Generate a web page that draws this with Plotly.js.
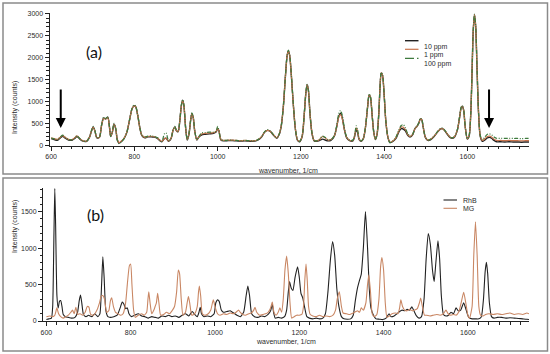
<!DOCTYPE html>
<html>
<head>
<meta charset="utf-8">
<script src="https://cdn.plot.ly/plotly-3.0.1.min.js"></script>
<style>html,body{margin:0;padding:0;background:#fff;}#chart{width:550px;height:354px;}</style>
</head>
<body>
<div id="chart"></div>
<script>
// ---------- Panel (a): concentration series ----------
const wnA = [600,607,615,622,628,634,642,650,656,662,668,675,685,692,697,701,705,710,716,721,726,731,736,740,743,747,751,755,759,763,768,775,782,788,794,799,803,808,813,818,825,832,840,848,856,862,866,872,876,882,888,893,897,901,905,909,913,916,919,923,927,931,935,938,941,945,950,955,962,970,980,990,996,1000,1003,1008,1015,1025,1035,1045,1055,1065,1075,1085,1095,1105,1113,1120,1127,1135,1142,1148,1153,1158,1163,1167,1170,1173,1177,1182,1187,1192,1197,1203,1208,1212,1215,1218,1222,1227,1232,1238,1245,1252,1258,1265,1272,1280,1286,1291,1295,1299,1304,1310,1318,1325,1329,1333,1336,1340,1345,1350,1355,1360,1364,1367,1371,1375,1379,1383,1387,1390,1393,1396,1400,1404,1409,1414,1420,1428,1435,1441,1446,1451,1457,1463,1469,1474,1478,1483,1487,1490,1494,1499,1505,1512,1520,1528,1535,1540,1545,1551,1558,1564,1570,1576,1581,1585,1588,1591,1595,1600,1604,1608,1611,1614,1617,1620,1623,1627,1631,1636,1642,1648,1653,1658,1664,1670,1680,1690,1700,1710,1720,1730,1740,1748];
const ppm10 = [150,130,115,170,205,160,120,115,150,200,150,100,90,180,330,420,330,170,180,450,620,600,640,420,200,300,480,380,120,50,80,150,300,560,820,900,880,680,400,220,170,190,195,185,150,100,80,150,160,90,150,350,420,330,310,550,920,1030,900,400,120,250,560,720,650,320,120,190,240,250,260,270,300,380,330,120,100,105,110,100,95,100,95,90,110,180,300,340,310,220,160,250,450,900,1600,2050,2150,2050,1600,900,350,110,80,200,700,1200,1380,1250,700,250,100,90,110,140,120,100,110,200,420,660,730,640,380,170,100,100,200,360,300,130,90,150,400,850,1150,1100,700,300,130,250,700,1300,1650,1600,1150,550,180,60,80,150,300,380,370,330,220,190,250,380,420,500,600,590,400,180,110,130,200,300,370,380,340,260,180,160,200,350,620,850,890,800,400,140,200,700,1600,2600,2980,2700,1800,700,200,90,120,170,180,160,110,80,80,75,80,75,75,70,75,75];
const ppm1 = [170,150,135,185,220,175,135,130,165,215,160,110,95,185,330,410,330,175,185,450,610,600,630,420,210,300,470,380,130,60,90,160,300,560,820,900,880,680,400,230,180,200,205,195,160,110,90,150,160,100,160,350,410,330,310,550,910,1020,900,400,130,250,560,710,650,320,130,200,260,270,280,290,310,390,330,130,110,115,115,110,105,110,105,100,120,190,300,340,310,230,170,260,460,900,1600,2050,2150,2050,1600,900,360,120,90,210,700,1200,1380,1250,700,260,110,100,130,200,170,120,130,210,420,640,700,620,380,180,110,110,210,400,330,140,100,160,400,850,1150,1100,700,300,140,260,700,1300,1650,1600,1150,560,190,70,90,170,320,420,410,360,240,200,260,380,420,500,600,590,400,190,120,140,210,300,370,380,340,270,190,170,210,350,620,850,890,800,400,150,210,700,1600,2600,2980,2700,1800,700,210,110,150,200,210,190,140,110,110,105,110,105,105,100,105,105];
const ppm100 = [165,145,130,190,230,180,130,125,160,215,160,105,90,190,340,430,340,175,190,460,640,610,650,430,200,310,500,390,110,35,70,150,300,570,830,920,890,690,410,230,190,210,215,200,170,110,90,260,280,110,160,360,430,340,320,560,930,1040,910,410,130,260,570,740,660,330,130,200,280,290,300,300,320,430,340,130,110,115,115,110,105,110,105,100,120,190,310,360,320,230,170,260,460,910,1610,2060,2170,2060,1610,910,360,120,90,210,710,1210,1390,1260,710,260,110,100,140,210,180,130,130,220,450,720,790,700,420,190,110,120,230,440,360,150,100,160,410,860,1170,1110,710,310,140,260,710,1310,1660,1610,1160,560,190,60,90,180,340,450,470,400,260,210,260,390,430,510,610,600,410,190,120,140,210,310,380,390,350,270,190,170,210,360,640,870,900,810,410,150,210,710,1610,2610,2990,2710,1810,710,220,130,190,250,260,240,190,160,160,155,160,155,155,150,155,155];
const namesA = ["10 ppm","1 ppm","100 ppm"];

// ---------- Panel (b): RhB and MG ----------
const wnRhB = [600,606,612,615,618,620,622,625,628,631,634,637,640,645,652,660,668,674,678,681,684,688,694,700,708,715,722,727,731,734,737,741,746,752,760,768,775,780,784,788,792,796,802,810,818,826,834,842,850,858,866,874,882,890,898,906,914,922,930,938,946,952,958,962,965,968,974,982,990,998,1002,1006,1010,1015,1020,1028,1036,1044,1052,1060,1068,1074,1078,1082,1087,1094,1102,1110,1118,1126,1132,1136,1139,1143,1150,1158,1165,1170,1174,1177,1181,1185,1190,1196,1200,1204,1208,1213,1218,1224,1232,1240,1248,1256,1262,1268,1274,1279,1284,1289,1294,1300,1306,1314,1322,1328,1333,1338,1343,1347,1352,1357,1362,1366,1370,1376,1382,1390,1398,1406,1413,1418,1425,1432,1438,1444,1450,1456,1462,1467,1472,1478,1484,1490,1496,1501,1506,1511,1516,1520,1524,1529,1533,1537,1542,1548,1554,1560,1566,1572,1577,1583,1590,1596,1602,1610,1618,1626,1632,1637,1641,1644,1647,1651,1656,1662,1670,1680,1690,1700,1710,1720,1730,1740,1745];
const rhb = [20,30,40,200,1200,1820,1300,350,180,270,280,200,90,60,50,40,50,120,280,355,250,90,60,80,60,100,60,100,500,880,600,150,60,50,60,80,180,260,230,170,180,100,60,80,100,70,60,40,60,50,40,70,60,80,60,70,50,80,100,70,130,90,60,120,190,100,60,70,60,100,250,290,270,150,120,130,140,110,80,60,120,350,480,350,100,60,50,70,60,90,140,230,120,40,50,40,60,150,400,540,450,420,600,745,600,380,320,180,60,40,30,40,30,40,100,400,850,1090,900,450,200,60,30,25,30,80,280,450,560,640,1000,1500,1000,450,180,80,30,25,20,40,100,60,70,100,130,150,140,160,150,195,140,70,40,60,300,850,1200,1050,700,540,800,1100,850,350,90,70,80,120,100,180,140,150,250,150,50,30,30,30,60,300,680,805,650,250,60,40,50,50,40,45,40,35,30,25,20];
const wnMG = [600,608,615,620,625,629,634,640,646,652,658,662,666,670,674,680,686,692,697,701,705,712,720,726,730,734,738,743,748,752,755,759,764,770,776,782,788,792,797,800,803,807,811,818,826,832,838,841,843,846,850,855,858,861,864,867,871,878,885,892,898,904,909,913,916,920,924,930,934,937,940,945,952,958,961,963,966,970,976,984,990,996,1000,1006,1012,1020,1028,1036,1044,1050,1056,1060,1066,1072,1080,1086,1092,1095,1099,1106,1114,1120,1126,1132,1136,1140,1145,1150,1154,1158,1162,1166,1170,1174,1178,1182,1188,1194,1200,1206,1210,1213,1216,1219,1222,1226,1232,1240,1248,1256,1264,1272,1280,1286,1290,1295,1300,1304,1312,1320,1328,1334,1338,1343,1347,1352,1358,1362,1365,1369,1373,1378,1384,1389,1393,1396,1400,1404,1408,1414,1420,1428,1434,1438,1441,1445,1450,1456,1462,1468,1474,1480,1485,1488,1492,1497,1502,1510,1518,1526,1534,1542,1548,1553,1560,1566,1572,1578,1584,1590,1595,1600,1604,1610,1614,1618,1622,1626,1630,1636,1642,1650,1660,1670,1680,1690,1700,1710,1720,1730,1740,1745];
const mg = [60,70,60,80,180,100,60,40,60,80,120,150,100,190,90,100,80,120,200,190,90,80,150,250,340,350,300,120,140,280,320,200,120,100,80,100,250,500,760,780,500,150,50,80,100,80,120,300,400,250,100,150,200,250,380,250,80,90,120,100,140,200,400,700,650,300,80,120,250,335,250,80,100,200,400,480,350,100,80,100,150,290,200,100,80,100,90,110,100,120,150,120,90,80,100,110,150,190,120,80,90,100,120,180,260,120,80,120,180,120,300,700,890,650,250,40,60,80,80,90,200,550,780,550,200,90,70,60,80,60,70,60,80,150,300,400,200,110,100,90,110,130,140,120,180,150,250,500,630,400,100,60,90,300,750,870,700,250,50,70,100,110,100,180,290,200,150,140,160,140,150,170,250,315,200,80,80,70,80,90,80,100,150,100,80,90,80,120,250,395,250,80,40,200,900,1360,900,200,80,70,90,100,90,100,90,100,110,90,100,90,110,100];
const namesB = ["RhB","MG"];

// ---------- geometry helpers (pixel -> paper) ----------
const W = 550, H = 354;
const px = x => x / W;
const py = y => 1 - y / H;

const cBlack = "#222222", cRed = "#c8734c", cGreen = "#3d7a3d", cMG = "#c98764";
const TXT = "#2b2b2b";
const FONT = "Liberation Sans, Arial, sans-serif";

const traces = [
  {x: wnA, y: ppm10, name: namesA[0], type: "scatter", mode: "lines", xaxis: "x", yaxis: "y",
   line: {color: cBlack, width: 1.4, shape: "spline", smoothing: 0.8}},
  {x: wnA, y: ppm1, name: namesA[1], type: "scatter", mode: "lines", xaxis: "x", yaxis: "y",
   line: {color: cRed, width: 1.2, shape: "spline", smoothing: 0.8}},
  {x: wnA, y: ppm100, name: namesA[2], type: "scatter", mode: "lines", xaxis: "x", yaxis: "y",
   line: {color: cGreen, width: 1.2, shape: "spline", smoothing: 0.8, dash: "4px,1.5px,1px,1.5px,1px,1.5px"}},
  {x: wnRhB, y: rhb, name: namesB[0], type: "scatter", mode: "lines", xaxis: "x2", yaxis: "y2",
   line: {color: cBlack, width: 1.1, shape: "spline", smoothing: 0.5}},
  {x: wnMG, y: mg, name: namesB[1], type: "scatter", mode: "lines", xaxis: "x2", yaxis: "y2",
   line: {color: cMG, width: 1.1, shape: "spline", smoothing: 0.5}}
];

const axX = {
  showgrid: false, zeroline: false, showline: true, linecolor: "#222", linewidth: 1,
  ticks: "outside", ticklen: 4, tickwidth: 1, tickcolor: "#222",
  tick0: 600, dtick: 200, tickfont: {family: FONT, size: 7, color: TXT},
  minor: {dtick: 25, ticks: "outside", ticklen: 2.5, tickcolor: "#222", showgrid: false}
};
const axY = {
  showgrid: false, zeroline: false, showline: true, linecolor: "#222", linewidth: 1,
  ticks: "outside", ticklen: 4, tickwidth: 1, tickcolor: "#222",
  tick0: 0, dtick: 500, tickfont: {family: FONT, size: 7, color: TXT},
  minor: {dtick: 100, ticks: "outside", ticklen: 2.5, tickcolor: "#222", showgrid: false}
};

const shapes = [
  {type: "rect", xref: "paper", yref: "paper", x0: px(3), x1: px(547.5), y0: py(174), y1: py(3),
   line: {color: "#8a8a8a", width: 1.5}},
  {type: "rect", xref: "paper", yref: "paper", x0: px(3), x1: px(547.5), y0: py(351), y1: py(178),
   line: {color: "#8a8a8a", width: 1.5}}
];

const annotations = [
  {text: "(a)", xref: "paper", yref: "paper", x: px(84), y: py(39.5), showarrow: false,
   font: {family: "Lato, sans-serif", size: 16, color: "#111"}},
  {text: "(b)", xref: "paper", yref: "paper", x: px(85), y: py(214), showarrow: false,
   font: {family: "Lato, sans-serif", size: 16, color: "#111"}},
  {text: "Intensity (counts)", xref: "paper", yref: "paper", x: px(8.5), y: py(79), textangle: -90,
   showarrow: false, font: {family: FONT, size: 7, color: TXT}},
  {text: "Intensity (counts)", xref: "paper", yref: "paper", x: px(8.5), y: py(255), textangle: -90,
   showarrow: false, font: {family: FONT, size: 7, color: TXT}},
  {text: "wavenumber, 1/cm", xref: "paper", yref: "paper", x: px(288), y: py(170), showarrow: false,
   font: {family: FONT, size: 7, color: TXT}},
  {text: "wavenumber, 1/cm", xref: "paper", yref: "paper", x: px(286), y: py(347), showarrow: false,
   font: {family: FONT, size: 7, color: TXT}},
  // arrows in panel (a)
  {x: 623, y: 394, xref: "x", yref: "y", ax: 0, ay: -40, showarrow: true, text: "",
   arrowhead: 2, arrowsize: 1, arrowwidth: 2, arrowcolor: "#000"},
  {x: 1652, y: 394, xref: "x", yref: "y", ax: 0, ay: -40, showarrow: true, text: "",
   arrowhead: 2, arrowsize: 1, arrowwidth: 2, arrowcolor: "#000"}
];

// custom legends (samples + labels)
const legA = [{y: 40.7, c: cBlack, d: "solid", w: 1.4}, {y: 49.3, c: cRed, d: "solid", w: 1.2}, {y: 58.3, c: cGreen, d: "dashdot", w: 1.2}];
legA.forEach((l, i) => {
  shapes.push({type: "line", xref: "paper", yref: "paper", x0: px(405), x1: px(418.5), y0: py(l.y), y1: py(l.y),
    line: {color: l.c, width: l.w, dash: l.d}});
  annotations.push({text: namesA[i], xref: "paper", yref: "paper", x: px(421.5), y: py(l.y), xanchor: "left",
    showarrow: false, font: {family: FONT, size: 7, color: TXT}});
});
const legB = [{y: 200, c: cBlack}, {y: 208.3, c: cMG}];
legB.forEach((l, i) => {
  shapes.push({type: "line", xref: "paper", yref: "paper", x0: px(443.5), x1: px(457), y0: py(l.y), y1: py(l.y),
    line: {color: l.c, width: 1.1}});
  annotations.push({text: namesB[i], xref: "paper", yref: "paper", x: px(460.5), y: py(l.y), xanchor: "left",
    showarrow: false, font: {family: FONT, size: 7, color: TXT}});
});

const layout = {
  width: W, height: H, margin: {l: 0, r: 0, t: 0, b: 0},
  paper_bgcolor: "#fff", plot_bgcolor: "#fff", showlegend: false,
  font: {family: FONT},
  xaxis: Object.assign({}, axX, {domain: [px(49.5), px(529)], range: [596, 1748], anchor: "y"}),
  yaxis: Object.assign({}, axY, {domain: [py(145.7), py(13.3)], range: [-10, 3010], anchor: "x"}),
  xaxis2: Object.assign({}, axX, {domain: [px(43), px(529)], range: [592, 1745], anchor: "y2"}),
  yaxis2: Object.assign({}, axY, {domain: [py(321.4), py(188.3)], range: [-5, 1820], anchor: "x2"}),
  shapes: shapes, annotations: annotations
};

Plotly.newPlot("chart", traces, layout, {staticPlot: true, displayModeBar: false});
</script>
</body>
</html>
